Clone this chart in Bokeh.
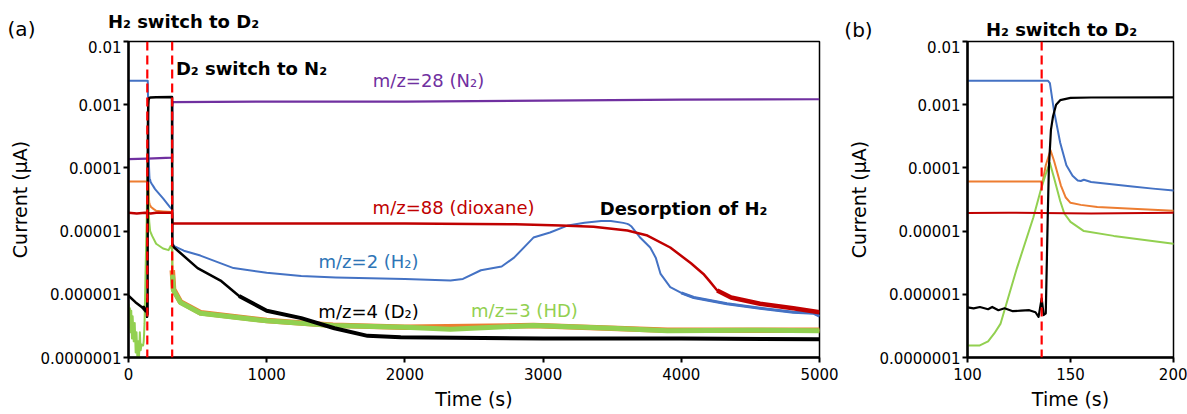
from bokeh.plotting import figure
from bokeh.layouts import row, column
from bokeh.models import Label, Span, FixedTicker, CustomJSTickFormatter, Range1d
from bokeh.core.properties import value
from bokeh.embed import file_html
from bokeh.resources import INLINE

# ---- ion currents (µA) versus time (s) for each monitored m/z ----
t_h2 = [0, 136, 139, 140, 142, 145, 148, 151, 153.5, 155, 156.5, 160, 170, 180, 190, 200, 250, 300, 315, 317,
        330, 400, 520, 760, 1000, 1250, 1500, 2000, 2330, 2420, 2550, 2700, 2790, 2930, 3050, 3180, 3300, 3420,
        3490, 3580, 3610, 3625, 3640, 3700, 3775, 3815, 3850, 3920, 4000, 4090, 4330, 4570, 4810, 4960, 5000]
i_h2 = [2.4e-3, 2.4e-3, 2.4e-3, 2.2e-3, 8e-4, 2.5e-4, 1.1e-4, 7.5e-5, 6.3e-5, 6.2e-5, 6.5e-5, 6.0e-5, 5.5e-5,
        5.1e-5, 4.7e-5, 4.4e-5, 3.3e-5, 2.4e-5, 2.2e-5, 6.5e-6, 5.8e-6, 4.9e-6, 4.1e-6, 2.6e-6, 2.2e-6, 1.95e-6,
        1.85e-6, 1.75e-6, 1.65e-6, 1.75e-6, 2.4e-6, 2.75e-6, 3.8e-6, 7.9e-6, 9.5e-6, 1.23e-5, 1.36e-5, 1.45e-5,
        1.45e-5, 1.35e-5, 1.3e-5, 1.25e-5, 1.18e-5, 8e-6, 5.5e-6, 3.8e-6, 2.1e-6, 1.3e-6, 1.05e-6, 8.9e-7,
        7.1e-7, 6.0e-7, 5.2e-7, 5.0e-7, 4.5e-7]

t_diox = [0, 60, 120, 160, 200, 315, 317, 1000, 2000, 2500, 2800, 3130, 3365, 3610, 3755, 3920, 4070, 4160,
          4200, 4260, 4360, 4570, 4810, 5000]
i_diox = [1.95e-5, 1.9e-5, 1.95e-5, 1.9e-5, 1.95e-5, 1.95e-5, 1.32e-5, 1.32e-5, 1.32e-5, 1.3e-5, 1.28e-5,
          1.23e-5, 1.17e-5, 1.02e-5, 8.5e-6, 5.5e-6, 3.1e-6, 2.1e-6, 1.66e-6, 1.15e-6, 8.9e-7, 7.1e-7, 6.0e-7,
          5.2e-7]

t_n2 = [0, 136, 315, 317, 320, 1000, 2000, 3000, 4000, 5000]
i_n2 = [1.38e-4, 1.4e-4, 1.45e-4, 1.0e-3, 1.1e-3, 1.12e-3, 1.12e-3, 1.16e-3, 1.2e-3, 1.22e-3]

t_d2 = [0, 50, 100, 103, 106, 110, 112, 115, 118, 122, 126, 130, 133, 134.5, 136, 137, 138, 139, 139.5, 140.5,
        141.5, 143, 145, 150, 160, 200, 315, 317, 330, 500, 666, 800, 1000, 1250, 1490, 1730, 1970, 3000,
        4000, 5000]
i_d2 = [9.5e-7, 7.5e-7, 6.2e-7, 6.0e-7, 6.3e-7, 5.8e-7, 6.3e-7, 5.6e-7, 6.0e-7, 5.4e-7, 5.5e-7, 5.6e-7,
        5.2e-7, 4.4e-7, 8.6e-7, 4.7e-7, 5e-7, 2e-5, 1e-4, 4e-4, 6.5e-4, 1.0e-3, 1.18e-3, 1.28e-3, 1.3e-3,
        1.31e-3, 1.32e-3, 6.2e-6, 5.5e-6, 2.6e-6, 1.65e-6, 9.4e-7, 5.5e-7, 4.2e-7, 2.9e-7, 2.2e-7, 2.1e-7,
        2.0e-7, 2.0e-7, 1.95e-7]

t_m32 = [0, 136, 136.6, 138, 140.3, 142, 145.3, 147.7, 150, 155, 163, 180, 200, 250, 315, 317, 326, 376, 521,
         1000, 1480, 2000, 2930, 3900, 5000]
i_m32 = [6.1e-5, 6.1e-5, 6.3e-5, 1.1e-4, 1.9e-4, 1.3e-4, 5.3e-5, 3.4e-5, 2.8e-5, 2.6e-5, 2.4e-5, 2.25e-5,
         2.1e-5, 2.05e-5, 2.0e-5, 2.4e-6, 1.2e-6, 7.6e-7, 5.1e-7, 3.85e-7, 3.25e-7, 3.0e-7, 3.2e-7, 2.7e-7, 2.7e-7]

t_hd = [0, 5, 10, 15, 20, 25, 30, 38, 45, 52, 58, 64, 70, 76, 82, 88, 94, 100, 106, 110, 113, 116, 124, 132,
        135.5, 138, 140, 142, 145, 147, 150, 156.5, 171, 200, 250, 290, 305, 312, 316, 318, 326, 376, 521, 1000,
        1480, 2000, 2330, 2930, 3500, 3900, 4500, 5000]
i_hd = [7e-7, 3e-7, 6e-7, 2.5e-7, 5.5e-7, 2e-7, 4.5e-7, 1.8e-7, 3.5e-7, 1.2e-7, 2.5e-7, 1e-7, 1.8e-7, 1e-7,
        2.5e-7, 1.3e-7, 1.6e-7, 1.55e-7, 1.55e-7, 1.8e-7, 2.4e-7, 3.4e-7, 2.6e-6, 1.66e-5, 4.4e-5, 8e-5, 1.2e-4,
        7e-5, 3e-5, 1.9e-5, 1.4e-5, 1e-5, 8.4e-6, 6.3e-6, 5.3e-6, 5e-6, 5.8e-6, 5.5e-6, 4.8e-6, 2e-6, 1.15e-6,
        7.4e-7, 5e-7, 3.8e-7, 3.2e-7, 3.0e-7, 2.8e-7, 3.2e-7, 2.9e-7, 2.65e-7, 2.7e-7, 2.65e-7]

# gas switching instants (s)
switch_times_a = [136, 316]
switch_times_b = [136]

# axis ticks
y_tick_values = [1e-7, 1e-6, 1e-5, 1e-4, 1e-3, 1e-2]
y_tick_labels = ["0.0000001", "0.000001", "0.00001", "0.0001", "0.001", "0.01"]
x_ticks_a = [0, 1000, 2000, 3000, 4000, 5000]
x_ticks_b = [100, 150, 200]

FONT = "DejaVu Sans"
C_H2, C_HD, C_D2 = "#4472C4", "#92D050", "#000000"
C_32, C_DIOX, C_N2 = "#ED7D31", "#C00000", "#7030A0"
TOP = 40  # height of the heading strip above the plot frames


def make_panel(x_range, x_ticks, border_left, frame_w, border_right):
    p = figure(x_range=x_range, y_range=(1e-7, 1e-2), y_axis_type="log",
               frame_width=frame_w, frame_height=316,
               min_border_left=border_left, min_border_right=border_right,
               min_border_top=1, min_border_bottom=57,
               toolbar_location=None, output_backend="svg")
    p.grid.visible = False
    p.outline_line_color = "black"
    p.outline_line_width = 1.5
    p.outline_line_alpha = 1
    p.background_fill_color = "white"
    p.border_fill_color = "white"

    p.yaxis.ticker = FixedTicker(ticks=y_tick_values)
    p.yaxis.formatter = CustomJSTickFormatter(
        args=dict(vals=y_tick_values, labs=y_tick_labels),
        code="""
        for (let i = 0; i < vals.length; i++) {
            if (Math.abs(Math.log10(tick) - Math.log10(vals[i])) < 1e-6) return labs[i];
        }
        return "";
        """)
    p.xaxis.ticker = FixedTicker(ticks=x_ticks)
    for ax in (p.xaxis[0], p.yaxis[0]):
        ax.axis_line_width = 2.5
        ax.axis_line_color = "black"
        ax.major_tick_line_width = 2
        ax.major_tick_line_color = "black"
        ax.major_tick_out = 5
        ax.major_tick_in = 0
        ax.minor_tick_line_color = None
        ax.major_label_text_font = FONT
        ax.major_label_text_font_size = "15px"
        ax.major_label_text_color = "black"
        ax.axis_label_text_font = FONT
        ax.axis_label_text_font_size = "19px"
        ax.axis_label_text_font_style = "normal"
        ax.axis_label_text_color = "black"
    p.yaxis.major_label_standoff = 2
    p.xaxis.major_label_standoff = 5
    p.xaxis.axis_label = "Time (s)"
    p.yaxis.axis_label = "Current (μA)"
    p.yaxis.axis_label_standoff = 6
    p.xaxis.axis_label_standoff = 5
    return p


def trace(p, t, v, color, width, tail_from=None, tail_width=None):
    p.line(t, v, line_color=color, line_width=width, line_join="round")
    if tail_from is not None:
        p.line(t[tail_from:], v[tail_from:], line_color=color, line_width=tail_width, line_join="round")


def switch_lines(p, times):
    for ts in times:
        p.add_layout(Span(location=ts, dimension="height", line_color="#FF0000",
                          line_width=2.2, line_dash="9 5"))


def label(p, x, y, text, color="black", size="18px", bold=False):
    p.add_layout(Label(x=x, y=y, text=text, text_color=color,
                       text_font=FONT, text_font_size=size,
                       text_font_style="bold" if bold else "normal",
                       text_align="center", text_baseline="middle"))


# ---- heading strip: panel letters and the first gas-switch note ----
head = figure(width=1187, height=TOP, x_range=Range1d(0, 1187), y_range=Range1d(TOP, 0),
              min_border=0, x_axis_location=None, y_axis_location=None,
              toolbar_location=None, output_backend="svg")
head.grid.visible = False
head.outline_line_color = None
head.text(x=[21, 858], y=[28, 29], text=["(a)", "(b)"], text_font=value(FONT),
          text_font_size="20px", text_color="black", text_align="center", text_baseline="middle")
head.text(x=[183, 1061], y=[21, 29], text=["H₂ switch to D₂", "H₂ switch to D₂"], text_font=value(FONT),
          text_font_size="18px", text_font_style="bold", text_color="black",
          text_align="center", text_baseline="middle")

# ---- panel (a): full experiment ----
pa = make_panel((0, 5000), x_ticks_a, 128, 691, 21)
trace(pa, t_m32, i_m32, C_32, 2, tail_from=15, tail_width=5.5)
trace(pa, t_hd, i_hd, C_HD, 2, tail_from=39, tail_width=5)
trace(pa, t_h2, i_h2, C_H2, 2, tail_from=48, tail_width=3)
trace(pa, t_diox, i_diox, C_DIOX, 2.5, tail_from=19, tail_width=4.5)
trace(pa, t_n2, i_n2, C_N2, 2.2)
trace(pa, t_d2, i_d2, C_D2, 2.5, tail_from=31, tail_width=4)
switch_lines(pa, switch_times_a)

label(pa, 890, 3.74e-3, "D₂ switch to N₂", bold=True)
label(pa, 2171, 2.41e-3, "m/z=28 (N₂)", color=C_N2)
label(pa, 2352, 2.36e-5, "m/z=88 (dioxane)", color=C_DIOX)
label(pa, 4016, 2.28e-5, "Desorption of H₂", bold=True)
label(pa, 1737, 3.3e-6, "m/z=2 (H₂)", color="#2E75B6")
label(pa, 1737, 5.4e-7, "m/z=4 (D₂)")
label(pa, 2865, 5.5e-7, "m/z=3 (HD)", color=C_HD)

# ---- panel (b): detail around the H2 -> D2 switch ----
pb = make_panel((100, 200), x_ticks_b, 127, 206, 14)
trace(pb, t_m32, i_m32, C_32, 2)
trace(pb, t_hd, i_hd, C_HD, 2)
trace(pb, t_h2, i_h2, C_H2, 2)
trace(pb, t_diox, i_diox, C_DIOX, 2)
trace(pb, t_d2, i_d2, C_D2, 2.2)
switch_lines(pb, switch_times_b)

layout = column(head, row(pa, pb, spacing=0), spacing=0)
open("out.html", "w").write(file_html(layout, INLINE))
